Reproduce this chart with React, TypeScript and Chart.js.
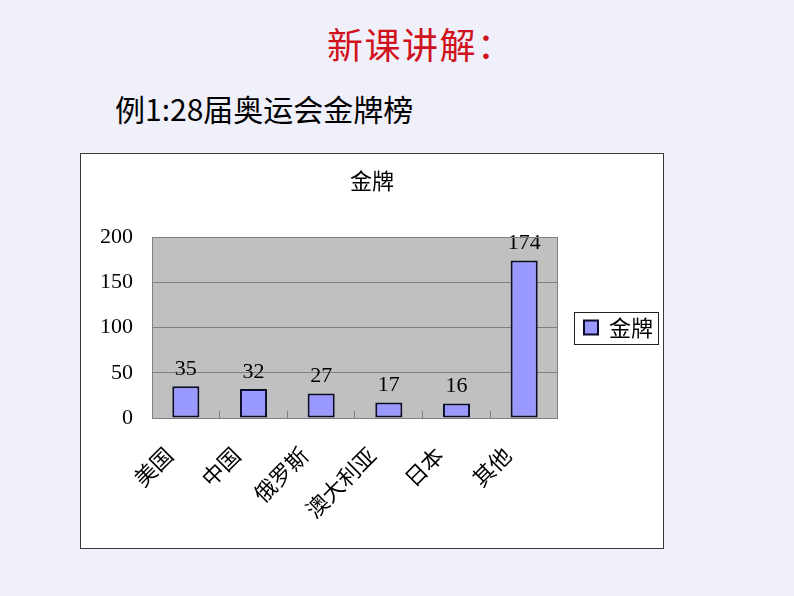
import { useEffect, useRef } from 'react';
import { Chart, registerables } from 'chart.js';

Chart.register(...registerables);

const COUNTRIES = ['美国', '中国', '俄罗斯', '澳大利亚', '日本', '其他'];
const GOLD_MEDALS = [35, 32, 27, 17, 16, 174];
const SERIES_LABEL = '金牌';
const Y_MIN = 0;
const Y_MAX = 200;
const Y_STEP = 50;

const CJK = '"Noto Sans CJK SC", sans-serif';
const SERIF = '"Liberation Serif", "Times New Roman", serif';

// gray plot background + frame, like the old office charts
const plotArea = {
  id: 'plotArea',
  beforeDraw(chart: Chart) {
    const { ctx, chartArea: a } = chart;
    ctx.save();
    ctx.fillStyle = '#c0c0c0';
    ctx.fillRect(a.left, a.top, a.right - a.left, a.bottom - a.top);
    ctx.restore();
  },
  afterDraw(chart: Chart) {
    const { ctx, chartArea: a } = chart;
    ctx.save();
    ctx.strokeStyle = '#808080';
    ctx.lineWidth = 1;
    ctx.strokeRect(a.left + 0.5, a.top + 0.5, a.right - a.left - 1, a.bottom - a.top);
    ctx.restore();
  },
};

// value labels above each bar
const barLabels = {
  id: 'barLabels',
  afterDatasetsDraw(chart: Chart) {
    const { ctx } = chart;
    ctx.save();
    ctx.fillStyle = '#000';
    ctx.font = `22px ${SERIF}`;
    ctx.textAlign = 'center';
    ctx.textBaseline = 'bottom';
    chart.data.datasets.forEach((ds, di) => {
      chart.getDatasetMeta(di).data.forEach((bar: any, i) => {
        ctx.fillText(String(ds.data[i]), bar.x, bar.y - 6);
      });
    });
    ctx.restore();
  },
};

// thin frame around the legend item
const legendFrame = {
  id: 'legendFrame',
  afterDraw(chart: any) {
    const boxes = chart.legend?.legendHitBoxes;
    if (!boxes || !boxes.length) return;
    const hb = boxes[0];
    const { ctx } = chart;
    ctx.save();
    ctx.strokeStyle = '#222';
    ctx.lineWidth = 1;
    ctx.strokeRect(Math.round(hb.left - 10) + 0.5, Math.round(hb.top - 5) + 0.5, hb.width + 15, hb.height + 10);
    ctx.restore();
  },
};

function MedalChart() {
  const canvasRef = useRef<HTMLCanvasElement>(null);
  const chartRef = useRef<Chart | null>(null);

  useEffect(() => {
    if (!canvasRef.current) return;
    if (chartRef.current) chartRef.current.destroy();

    chartRef.current = new Chart(canvasRef.current, {
      type: 'bar',
      data: {
        labels: COUNTRIES,
        datasets: [{
          label: SERIES_LABEL,
          data: GOLD_MEDALS,
          backgroundColor: '#9999ff',
          borderColor: '#0c0c2a',
          borderWidth: 2,
          borderSkipped: false,
          categoryPercentage: 1,
          barPercentage: 0.4,
        }],
      },
      options: {
        responsive: false,
        animation: false,
        layout: { padding: 0 },
        scales: {
          x: {
            offset: true,
            grid: { display: true, drawOnChartArea: false, tickLength: -7, color: '#808080', offset: true },
            border: { color: '#808080' },
            ticks: {
              autoSkip: false,
              minRotation: 45,
              maxRotation: 45,
              padding: 31,
              labelOffset: -17,
              color: '#000',
              font: { family: CJK, size: 22 },
            },
            afterFit: (s: any) => { s.height = 130; },
          },
          y: {
            min: Y_MIN,
            max: Y_MAX,
            ticks: {
              stepSize: Y_STEP,
              padding: 19,
              color: '#000',
              font: { family: SERIF, size: 22 },
            },
            grid: { color: '#808080', drawTicks: false },
            border: { color: '#808080' },
            afterFit: (s: any) => { s.width = 71; },
          },
        },
        plugins: {
          title: {
            display: true,
            text: SERIES_LABEL,
            color: '#000',
            font: { family: CJK, size: 22, weight: 'normal', lineHeight: 1.2 },
            padding: { top: 13, bottom: 43.6 },
          },
          legend: {
            display: true,
            position: 'right',
            fullSize: false,
            labels: {
              boxWidth: 14,
              boxHeight: 14,
              padding: 26,
              color: '#000',
              font: { family: CJK, size: 22 },
            },
          },
          tooltip: { enabled: false },
        },
      },
      plugins: [plotArea, barLabels, legendFrame],
    });

    return () => {
      if (chartRef.current) chartRef.current.destroy();
      chartRef.current = null;
    };
  }, []);

  return <canvas ref={canvasRef} width={582} height={394} style={{ display: 'block' }} />;
}

export default function App() {
  return (
    <div style={{ position: 'fixed', left: 0, top: 0, width: 794, height: 596, background: '#f0f0fb', overflow: 'hidden' }}>
      <div style={{ position: 'absolute', left: 327, top: 24, fontFamily: CJK, fontSize: 36, lineHeight: '38px', letterSpacing: 1.5, color: '#d0121c', whiteSpace: 'nowrap' }}>
        新课讲解：
      </div>
      <div style={{ position: 'absolute', left: 115, top: 92, fontFamily: CJK, fontSize: 30, lineHeight: '32px', color: '#000', whiteSpace: 'nowrap' }}>
        例1:28届奥运会金牌榜
      </div>
      <div style={{ position: 'absolute', left: 80, top: 153, width: 584, height: 396, boxSizing: 'border-box', border: '1px solid #3a3a3a', background: '#fff' }}>
        <MedalChart />
      </div>
    </div>
  );
}
